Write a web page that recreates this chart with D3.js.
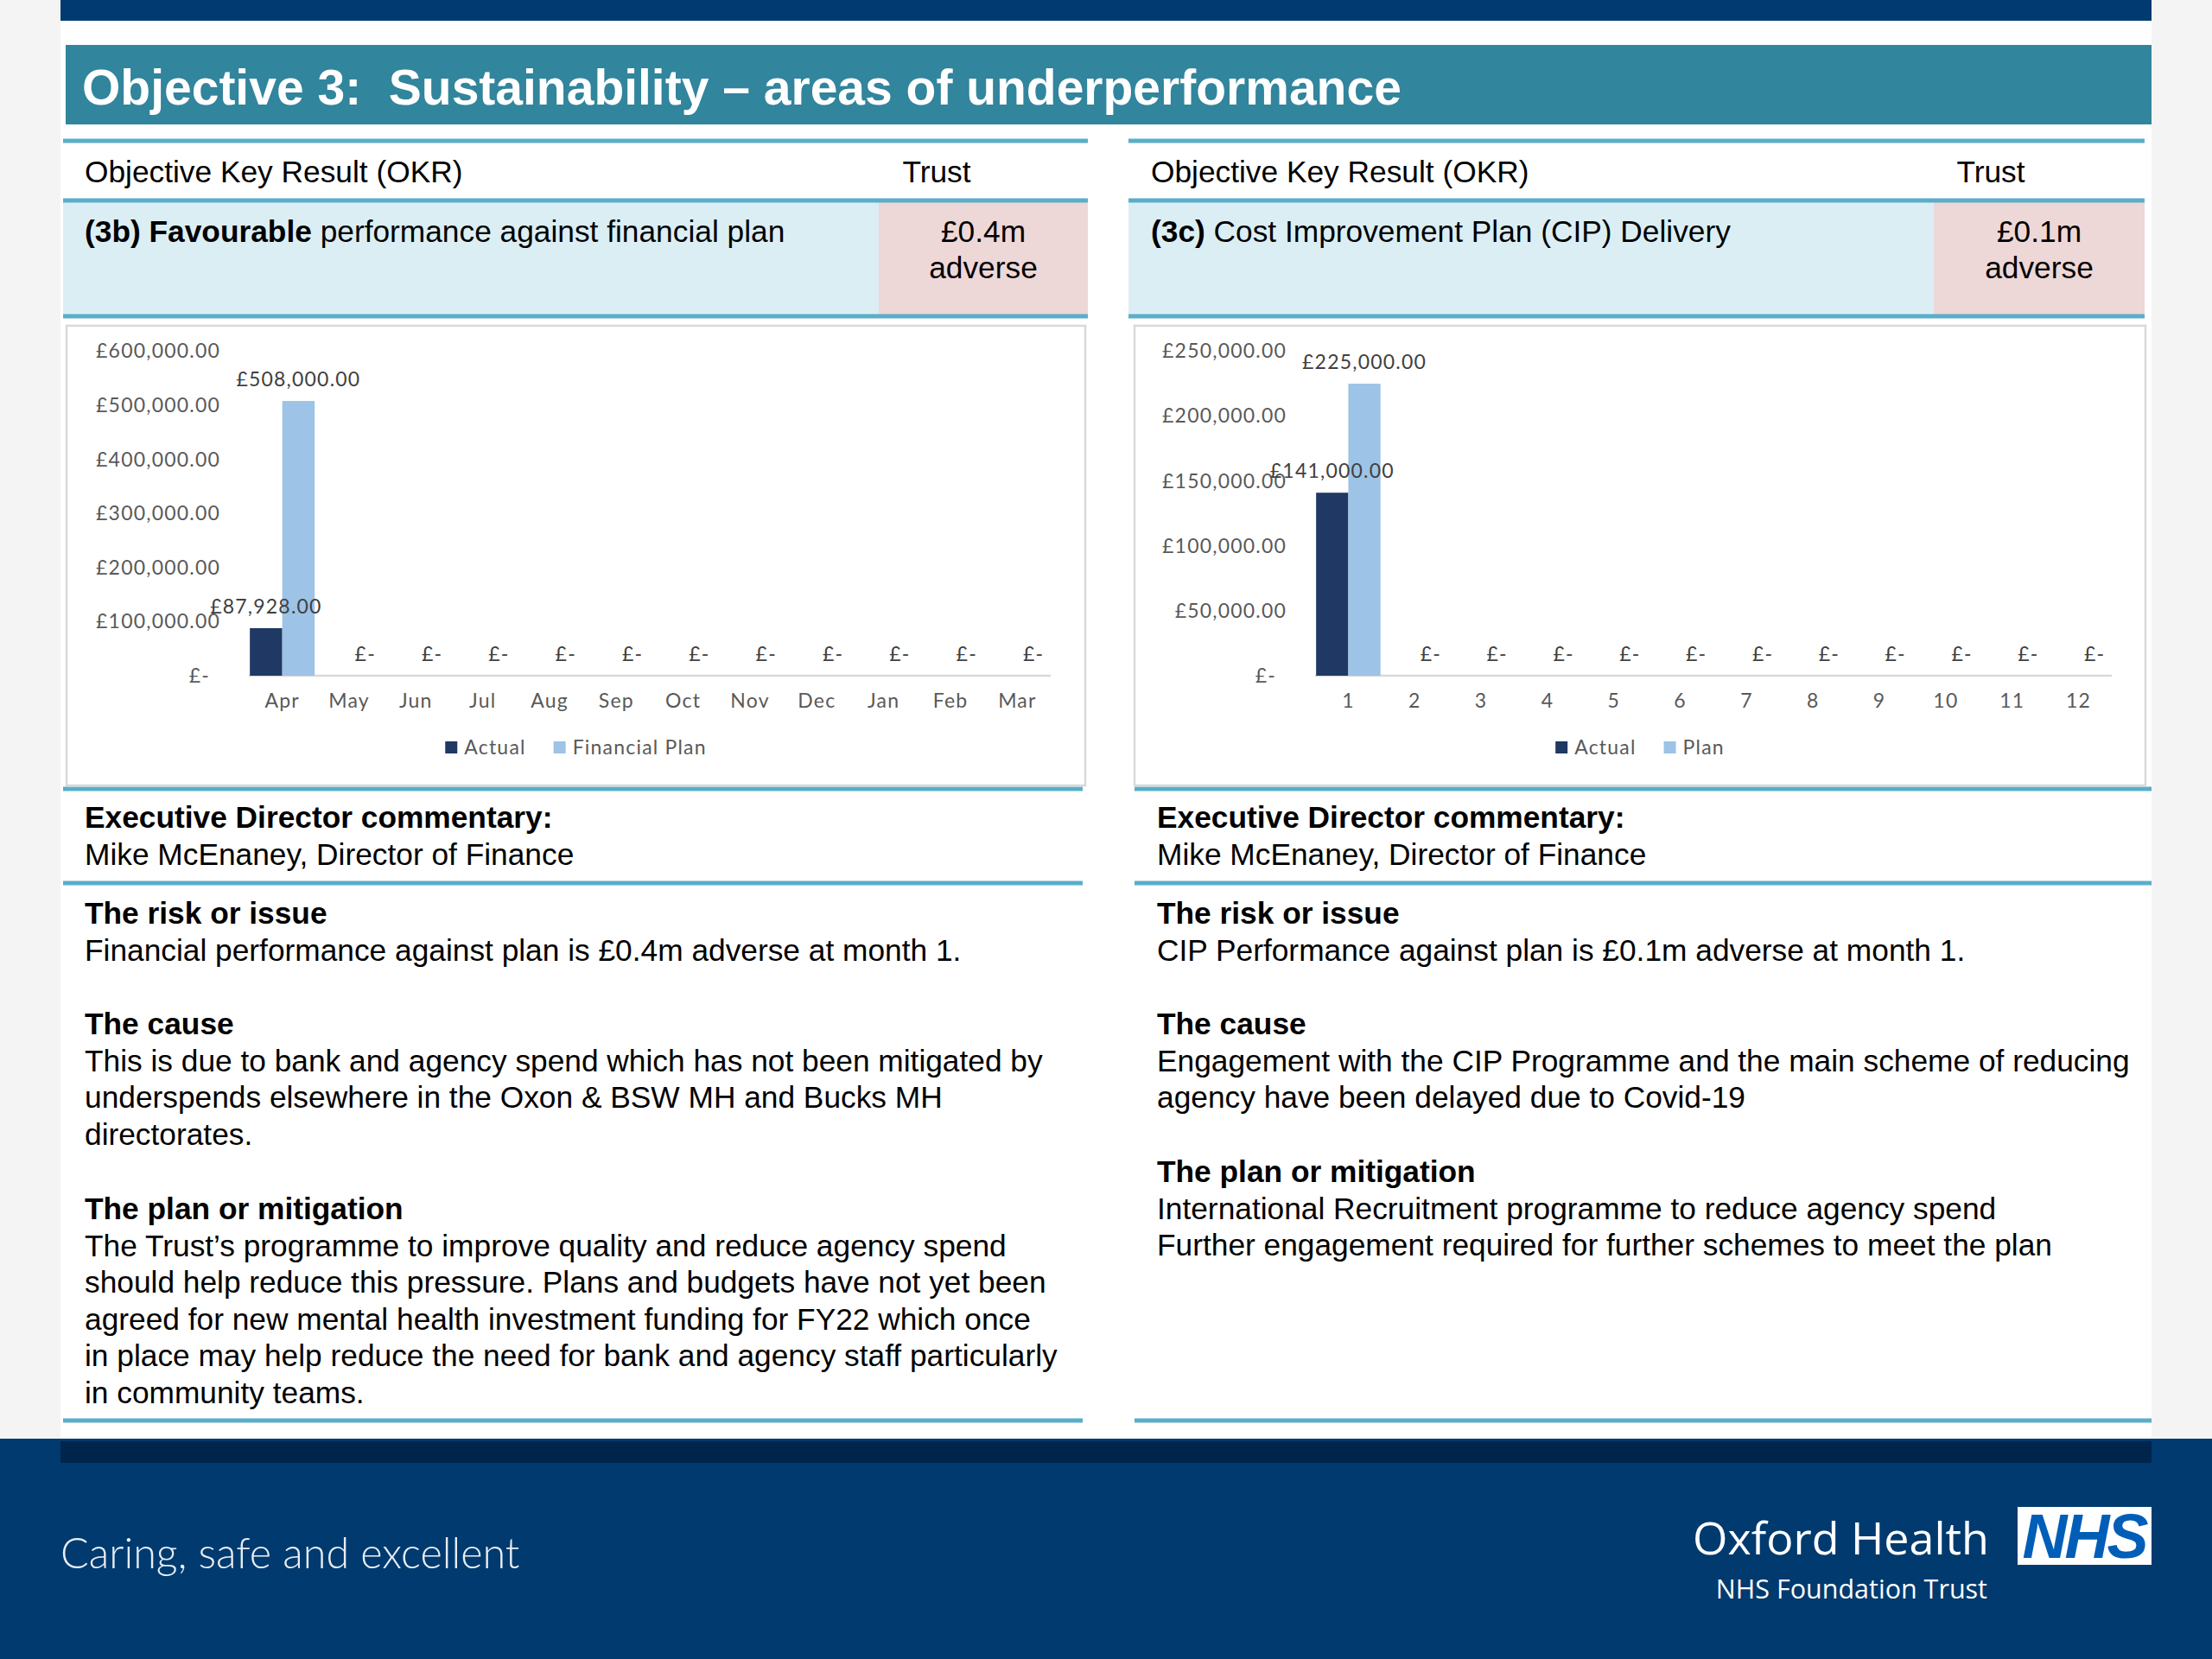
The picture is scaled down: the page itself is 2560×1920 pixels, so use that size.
<!DOCTYPE html>
<html>
<head>
<meta charset="utf-8">
<script src="https://cdn.jsdelivr.net/npm/d3@7"></script>
<style>
  body { margin: 0; background: #f4f4f4; }
  svg { display: block; }
</style>
</head>
<body>
<svg id="slide" width="2560" height="1920"></svg>
<script>
// chart data
const months = ['Apr','May','Jun','Jul','Aug','Sep','Oct','Nov','Dec','Jan','Feb','Mar'];
const finActual = [87928, null, null, null, null, null, null, null, null, null, null, null];
const finPlan = [508000, 0, 0, 0, 0, 0, 0, 0, 0, 0, 0, 0];
const finTicks = [0, 100000, 200000, 300000, 400000, 500000, 600000];

const cipPeriods = ['1','2','3','4','5','6','7','8','9','10','11','12'];
const cipActual = [141000, null, null, null, null, null, null, null, null, null, null, null];
const cipPlan = [225000, 0, 0, 0, 0, 0, 0, 0, 0, 0, 0, 0];
const cipTicks = [0, 50000, 100000, 150000, 200000, 250000];

const colActual = '#1f3864';
const colPlan = '#9dc3e6';
const lineCol = '#5aaec9';
const bodyFont = '"Liberation Sans", Arial, sans-serif';
const chartFont = 'Lato, "Open Sans", sans-serif';
const chartSize = '23px';
const chartSpacing = '1.2px';

const svg = d3.select('#slide');

function money(v) {
    return v === 0 ? '£-' : '£' + d3.format(',.2f')(v);
}

// --- page frame ---
svg.append('rect').attr('x', 0).attr('y', 0).attr('width', 2560).attr('height', 1920).attr('fill', '#f4f4f4');
svg.append('rect').attr('x', 70).attr('y', 0).attr('width', 2420).attr('height', 1668).attr('fill', '#ffffff');
svg.append('rect').attr('x', 70).attr('y', 0).attr('width', 2420).attr('height', 24).attr('fill', '#003a70');

// title bar
svg.append('rect').attr('x', 76).attr('y', 52).attr('width', 2414).attr('height', 92).attr('fill', '#31859c');
svg.append('text')
    .attr('x', 95).attr('y', 121)
    .attr('fill', '#ffffff')
    .style('font-family', bodyFont).style('font-weight', 'bold').style('font-size', '57px')
    .style('white-space', 'pre')
    .text('Objective 3:\u00a0 Sustainability \u2013 areas of underperformance');

// footer
svg.append('rect').attr('x', 0).attr('y', 1665).attr('width', 2560).attr('height', 255).attr('fill', '#003a6e');
svg.append('rect').attr('x', 70).attr('y', 1668).attr('width', 2420).attr('height', 25).attr('fill', '#00254d');
svg.append('text')
    .attr('x', 70).attr('y', 1815)
    .attr('fill', '#e8eef5')
    .style('font-family', 'Lato, "Open Sans", sans-serif').style('font-weight', 300).style('font-size', '48.5px')
    .text('Caring, safe and excellent');
svg.append('text')
    .attr('x', 2302).attr('y', 1799).attr('text-anchor', 'end')
    .attr('fill', '#ffffff')
    .style('font-family', '"Open Sans", sans-serif').style('font-size', '52px')
    .text('Oxford Health');
svg.append('text')
    .attr('x', 2300).attr('y', 1850).attr('text-anchor', 'end')
    .attr('fill', '#ffffff')
    .style('font-family', '"Open Sans", sans-serif').style('font-size', '30.5px')
    .text('NHS Foundation Trust');
svg.append('rect').attr('x', 2335).attr('y', 1744).attr('width', 155).attr('height', 67).attr('fill', '#ffffff');
svg.append('text')
    .attr('x', 2412).attr('y', 1803).attr('text-anchor', 'middle')
    .attr('fill', '#005eb8')
    .style('font-family', bodyFont).style('font-weight', 'bold').style('font-style', 'italic').style('font-size', '72px')
    .style('letter-spacing', '-3px')
    .text('NHS');

// --- panels ---
const panels = [
    {
        x0: 73, x1: 1259, lx0: 73, lx1: 1253, headX: 98, textX: 98, pinkX: 1017, trustX: 1084,
        okr: [['(3b) ', true], ['Favourable', true], [' performance against financial plan', false]],
        rag: ['£0.4m', 'adverse'],
        sections: [
            { title: 'The risk or issue', y: 1069, lines: ['Financial performance against plan is £0.4m adverse at month 1.'] },
            { title: 'The cause', y: 1197, lines: [
                'This is due to bank and agency spend which has not been mitigated by',
                'underspends elsewhere in the Oxon & BSW MH and Bucks MH',
                'directorates.'] },
            { title: 'The plan or mitigation', y: 1411, lines: [
                'The Trust\u2019s programme to improve quality and reduce agency spend',
                'should help reduce this pressure. Plans and budgets have not yet been',
                'agreed for new mental health investment funding for FY22 which once',
                'in place may help reduce the need for bank and agency staff particularly',
                'in community teams.'] }
        ]
    },
    {
        x0: 1306, x1: 2482, lx0: 1313, lx1: 2490, headX: 1332, textX: 1339, pinkX: 2238, trustX: 2304,
        okr: [['(3c)', true], [' Cost Improvement Plan (CIP) Delivery', false]],
        rag: ['£0.1m', 'adverse'],
        sections: [
            { title: 'The risk or issue', y: 1069, lines: ['CIP Performance against plan is £0.1m adverse at month 1.'] },
            { title: 'The cause', y: 1197, lines: [
                'Engagement with the CIP Programme and the main scheme of reducing',
                'agency have been delayed due to Covid-19'] },
            { title: 'The plan or mitigation', y: 1368, lines: [
                'International Recruitment programme to reduce agency spend',
                'Further engagement required for further schemes to meet the plan'] }
        ]
    }
];

const lh = 42.5;

panels.forEach(p => {
    const g = svg.append('g');
    // rows
    g.append('rect').attr('x', p.x0).attr('y', 232).attr('width', p.x1 - p.x0).attr('height', 134).attr('fill', '#dbeef4');
    g.append('rect').attr('x', p.pinkX).attr('y', 232).attr('width', p.x1 - p.pinkX).attr('height', 134).attr('fill', '#eed7d7');

    [163, 232, 366].forEach(yy => {
        g.append('line').attr('x1', p.x0).attr('x2', p.x1).attr('y1', yy).attr('y2', yy)
            .attr('stroke', lineCol).attr('stroke-width', 5);
    });
    [913, 1022, 1644].forEach(yy => {
        g.append('line').attr('x1', p.lx0).attr('x2', p.lx1).attr('y1', yy).attr('y2', yy)
            .attr('stroke', lineCol).attr('stroke-width', 5);
    });

    const txt = (x, y, s, bold, anchor) => g.append('text')
        .attr('x', x).attr('y', y).attr('text-anchor', anchor || 'start')
        .attr('fill', '#000')
        .style('font-family', bodyFont).style('font-size', '35.3px')
        .style('font-weight', bold ? 'bold' : 'normal')
        .text(s);

    txt(p.headX, 211, 'Objective Key Result (OKR)');
    txt(p.trustX, 211, 'Trust', false, 'middle');

    const okr = g.append('text').attr('x', p.headX).attr('y', 280)
        .style('font-family', bodyFont).style('font-size', '35.3px').attr('fill', '#000')
        .style('white-space', 'pre');
    p.okr.forEach(([s, b]) => {
        okr.append('tspan').style('font-weight', b ? 'bold' : 'normal').text(s);
    });
    const cx = (p.pinkX + p.x1) / 2;
    txt(cx, 280, p.rag[0], false, 'middle');
    txt(cx, 322, p.rag[1], false, 'middle');

    txt(p.textX, 958, 'Executive Director commentary:', true);
    txt(p.textX, 1001, 'Mike McEnaney, Director of Finance');

    p.sections.forEach(sec => {
        txt(p.textX, sec.y, sec.title, true);
        sec.lines.forEach((l, i) => txt(p.textX, sec.y + lh * (i + 1), l));
    });
});

// --- bar charts ---
function drawBarChart(opt) {
    const g = svg.append('g');
    g.append('rect')
        .attr('x', opt.box[0]).attr('y', 377).attr('width', opt.box[1] - opt.box[0]).attr('height', 532)
        .attr('fill', '#ffffff').attr('stroke', '#d9d9d9').attr('stroke-width', 2.5);

    const x = d3.scaleBand().domain(opt.cats).range(opt.xr).paddingInner(0.03).paddingOuter(0.015);
    const xs = d3.scaleBand().domain(['Actual', 'Plan']).range([0, x.bandwidth()]);
    const y = d3.scaleLinear().domain([0, d3.max(opt.ticks)]).range([782, 406.5]);

    const rows = [];
    opt.cats.forEach((c, i) => {
        if (opt.actual[i] != null) rows.push({ cat: c, key: 'Actual', v: opt.actual[i] });
        if (opt.plan[i] != null) rows.push({ cat: c, key: 'Plan', v: opt.plan[i] });
    });

    const styleTxt = sel => sel
        .style('font-family', chartFont).style('font-size', chartSize).style('letter-spacing', chartSpacing);

    // y axis labels
    const ya = g.append('g')
        .attr('transform', `translate(${opt.labelX},0)`)
        .call(d3.axisLeft(y).tickValues(opt.ticks).tickFormat(money).tickSize(0).tickPadding(0));
    ya.select('.domain').remove();
    ya.selectAll('text').call(styleTxt).attr('fill', '#595959');
    ya.selectAll('.tick').filter(d => d === 0).select('text').attr('dx', -12);

    // baseline
    g.append('line').attr('x1', opt.xr[0]).attr('x2', opt.xr[1]).attr('y1', y(0)).attr('y2', y(0))
        .attr('stroke', '#d9d9d9').attr('stroke-width', 2.5);

    g.selectAll('rect.bar')
        .data(rows.filter(d => d.v > 0))
        .enter()
        .append('rect')
        .attr('class', 'bar')
        .attr('x', d => x(d.cat) + xs(d.key))
        .attr('width', xs.bandwidth())
        .attr('y', d => y(d.v))
        .attr('height', d => y(0) - y(d.v))
        .attr('fill', d => d.key === 'Actual' ? colActual : colPlan);

    g.selectAll('text.lbl')
        .data(rows)
        .enter()
        .append('text')
        .attr('class', 'lbl')
        .attr('x', d => x(d.cat) + xs(d.key) + xs.bandwidth() / 2)
        .attr('y', d => y(d.v) - 25)
        .attr('dy', '0.35em')
        .attr('text-anchor', 'middle')
        .attr('fill', '#404040')
        .call(styleTxt)
        .text(d => money(d.v));

    // x labels
    const xa = g.append('g')
        .attr('transform', `translate(0,${y(0)})`)
        .call(d3.axisBottom(x).tickSize(0).tickPadding(21));
    xa.select('.domain').remove();
    xa.selectAll('text').call(styleTxt).attr('fill', '#595959');

    // legend
    const lg = g.append('g');
    let cur = 0;
    opt.legend.forEach((name, i) => {
        const it = lg.append('g').attr('transform', `translate(${cur},0)`);
        it.append('rect').attr('x', 0).attr('y', -7).attr('width', 14).attr('height', 14)
            .attr('fill', i === 0 ? colActual : colPlan);
        const t = it.append('text').attr('x', 22).attr('y', 0).attr('dy', '0.35em')
            .attr('fill', '#595959')
            .call(styleTxt)
            .text(name);
        cur += 22 + t.node().getComputedTextLength() + 32;
    });
    const lw = cur - 32;
    lg.attr('transform', `translate(${(opt.box[0] + opt.box[1]) / 2 - lw / 2},865)`);
}

drawBarChart({
    box: [77, 1256], xr: [288, 1216], labelX: 255,
    cats: months, actual: finActual, plan: finPlan, ticks: finTicks,
    legend: ['Actual', 'Financial Plan']
});
drawBarChart({
    box: [1313, 2483], xr: [1522, 2444], labelX: 1489,
    cats: cipPeriods, actual: cipActual, plan: cipPlan, ticks: cipTicks,
    legend: ['Actual', 'Plan']
});
</script>
</body>
</html>
